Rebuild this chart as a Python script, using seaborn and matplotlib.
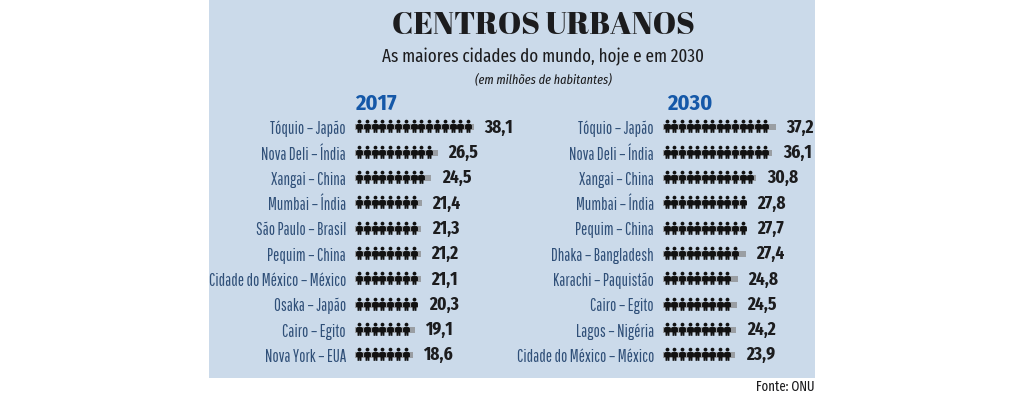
import numpy as np
import pandas as pd
import seaborn as sns
import matplotlib.pyplot as plt
from matplotlib.patches import Rectangle
from matplotlib.path import Path

# data
cities_2017 = ["Tóquio – Japão", "Nova Deli – Índia", "Xangai – China", "Mumbai – Índia",
               "São Paulo – Brasil", "Pequim – China", "Cidade do México – México",
               "Osaka – Japão", "Cairo – Egito", "Nova York – EUA"]
values_2017 = [38.1, 26.5, 24.5, 21.4, 21.3, 21.2, 21.1, 20.3, 19.1, 18.6]
cities_2030 = ["Tóquio – Japão", "Nova Deli – Índia", "Xangai – China", "Mumbai – Índia",
               "Pequim – China", "Dhaka – Bangladesh", "Karachi – Paquistão",
               "Cairo – Egito", "Lagos – Nigéria", "Cidade do México – México"]
values_2030 = [37.2, 36.1, 30.8, 27.8, 27.7, 27.4, 24.8, 24.5, 24.2, 23.9]
people_unit = 2.5  # one icon = 2,5 million

W, H = 1024, 395
NARROW = ["Fira Sans Extra Condensed", "Roboto", "DejaVu Sans"]
COND = ["Fira Sans Condensed", "Roboto", "DejaVu Sans"]
TIGHT = ["Pathway Gothic One", "Fira Sans Extra Condensed", "DejaVu Sans"]
PANEL = "#cbdaea"
LABEL = "#2f4f78"
DARK = "#1c1c1e"
BLUE = "#1558a8"

sns.set_theme(style="white")
plt.rcParams["font.family"] = NARROW

fig = plt.figure(figsize=(W / 100, H / 100), dpi=100, facecolor="white")
fig.add_artist(Rectangle((209 / W, 1 - 378 / H), 606 / W, 378 / H,
                         transform=fig.transFigure, color=PANEL, lw=0, zorder=-5))


def px_text(x, y, s, **kw):
    fig.text(x / W, 1 - y / H, s, va="center", **kw)


# person icon: head apart from the shoulders, a notch between the legs
head = Path.unit_circle()
head = Path(head.vertices * 0.15 + [0, 0.46], head.codes)
body = Path([(-0.17, 0.27), (0.17, 0.27), (0.27, 0.17), (0.27, -0.12), (0.16, -0.12),
             (0.15, -0.42), (0.02, -0.42), (0.0, -0.14), (-0.02, -0.42), (-0.15, -0.42),
             (-0.16, -0.12), (-0.27, -0.12), (-0.27, 0.17), (-0.17, 0.27)],
            [Path.MOVETO] + [Path.LINETO] * 12 + [Path.CLOSEPOLY])
person = Path.make_compound_path(head, body)


def panel(left, right, px_per_unit, cities, values):
    ax = fig.add_axes([left / W, 1 - 368 / H, (right - left) / W, 253.2 / H])
    ax.patch.set_alpha(0)
    df = pd.DataFrame({"city": cities, "value": values})
    sns.barplot(data=df, x="value", y="city", color="#9a9ea3", saturation=1,
                width=0.24, linewidth=0, ax=ax, zorder=1)
    # one icon for every complete unit, remainder stays as grey bar
    rows = [(c, (i + 0.5) * people_unit) for c, v in zip(cities, values)
            for i in range(int(v // people_unit))]
    icons = pd.DataFrame(rows, columns=["city", "x"])
    sns.scatterplot(data=icons, x="x", y="city", marker=person, s=125, color="#111111",
                    linewidth=0, ax=ax, zorder=2, legend=False)
    ax.bar_label(ax.containers[0], labels=[f"{v:.1f}".replace(".", ",") for v in values],
                 padding=7.5, fontsize=13.5, fontweight="bold", color=DARK, family=NARROW)
    ax.set_xlim(0, (right - left) / px_per_unit)
    ax.set_ylim(9.5, -0.5)
    ax.set(xlabel="", ylabel="", xticks=[])
    ax.tick_params(axis="y", length=0, pad=6.5, labelsize=12, labelcolor=LABEL)
    for t in ax.get_yticklabels():
        t.set_family(TIGHT)
    sns.despine(ax=ax, left=True, bottom=True)


panel(355, 540, 3.12, cities_2017, values_2017)
panel(663, 815, 3.03, cities_2030, values_2030)

# titles
px_text(543, 26, "CENTROS URBANOS", ha="center", fontsize=22.5, fontweight="normal",
        family=["Abril Fatface", "Liberation Serif", "DejaVu Serif"], color=DARK)
px_text(543, 57, "As maiores cidades do mundo, hoje e em 2030", ha="center", fontsize=13.3, color=DARK)
px_text(543, 79, "(em milhões de habitantes)", ha="center", fontsize=9.6, style="italic", color=DARK)
px_text(355, 104, "2017", ha="left", fontsize=16, fontweight="bold", family=COND, color=BLUE)
px_text(667, 104, "2030", ha="left", fontsize=16, fontweight="bold", family=COND, color=BLUE)
px_text(815, 387, "Fonte: ONU", ha="right", fontsize=10, color=DARK)

fig.savefig("out.png", dpi=100, facecolor="white")
